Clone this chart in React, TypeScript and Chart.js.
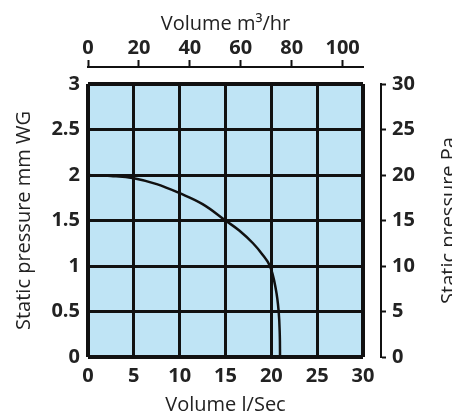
import React, { useEffect, useRef } from "react";
import { Chart, registerables } from "chart.js";

Chart.register(...registerables);

// ---- data ----
const flowLps = [0, 2.5, 5, 7.5, 10, 12.5, 15, 16.5, 18, 19, 19.85, 20.5, 20.8, 20.92, 20.95];
const pressureMmWG = [2, 1.99, 1.965, 1.9, 1.8, 1.68, 1.5, 1.39, 1.25, 1.13, 1.0, 0.74, 0.5, 0.25, 0];

const flowLpsMax = 30;
const flowLpsStep = 5;
const flowM3hMax = 108; // 30 l/s = 108 m3/hr
const flowM3hTicks = [0, 20, 40, 60, 80, 100];
const pressureMmMax = 3;
const pressureMmStep = 0.5;
const pressurePaMax = 30;
const pressurePaStep = 5;

const bottomTitle = "Volume l/Sec";
const topTitle = "Volume m³/hr";
const leftTitle = "Static pressure mm WG";
const rightTitle = "Static pressure Pa";

const FONT = '"Open Sans", "Noto Sans", sans-serif';
const tickFont = { family: FONT, size: 20, weight: "bold" as const };
const titleFont = { family: FONT, size: 20, weight: "normal" as const };
const plain = (v: any) => String(v);

export default function App() {
  const ref = useRef<HTMLCanvasElement | null>(null);

  useEffect(() => {
    if (!ref.current) return;

    const bgPlugin = {
      id: "plotBg",
      beforeDraw(chart: any) {
        const { ctx, chartArea } = chart;
        ctx.save();
        ctx.fillStyle = "#bfe4f5";
        ctx.fillRect(chartArea.left, chartArea.top, chartArea.right - chartArea.left, chartArea.bottom - chartArea.top);
        ctx.restore();
      },
      afterDraw(chart: any) {
        const { ctx, chartArea } = chart;
        ctx.save();
        ctx.translate(449, (chartArea.top + chartArea.bottom) / 2);
        ctx.rotate(-Math.PI / 2);
        ctx.font = `20px ${FONT}`;
        ctx.fillStyle = "#222";
        ctx.textAlign = "center";
        ctx.textBaseline = "middle";
        ctx.fillText(rightTitle, 0, 0);
        ctx.restore();
      },
    };

    const edgeWidth = (max: number) => (c: any) =>
      c.tick && (c.tick.value === 0 || c.tick.value === max) ? 4 : 3;

    const chart = new Chart(ref.current, {
      type: "scatter",
      data: {
        datasets: [
          {
            data: flowLps.map((x, i) => ({ x, y: pressureMmWG[i] })),
            showLine: true,
            borderColor: "#111",
            borderWidth: 2.5,
            pointRadius: 0,
            tension: 0.4,
            xAxisID: "x",
            yAxisID: "y",
          },
        ],
      },
      options: {
        responsive: false,
        animation: false,
        layout: { padding: 0 },
        plugins: { legend: { display: false }, tooltip: { enabled: false } },
        scales: {
          x: {
            type: "linear",
            position: "bottom",
            min: 0,
            max: flowLpsMax,
            ticks: { stepSize: flowLpsStep, font: tickFont, color: "#222", padding: 7, callback: plain },
            grid: { color: "#111", lineWidth: edgeWidth(flowLpsMax), drawTicks: false },
            border: { display: false },
            title: { display: true, text: bottomTitle, font: titleFont, color: "#222", padding: { top: 0, bottom: -3 } },
            afterFit: (s: any) => { s.height = 57; },
          },
          y: {
            type: "linear",
            position: "left",
            min: 0,
            max: pressureMmMax,
            ticks: { stepSize: pressureMmStep, font: tickFont, color: "#222", padding: 8, callback: plain },
            grid: { color: "#111", lineWidth: edgeWidth(pressureMmMax), drawTicks: false },
            border: { display: false },
            title: { display: true, text: leftTitle, font: titleFont, color: "#222", padding: { top: 12, bottom: 0 } },
            afterFit: (s: any) => { s.width = 88; },
          },
          xGap: {
            type: "linear",
            position: "top",
            weight: 0,
            min: 0,
            max: 1,
            ticks: { display: false },
            grid: { display: false },
            border: { display: false },
            afterFit: (s: any) => { s.height = 17; },
          },
          x2: {
            type: "linear",
            position: "top",
            weight: 1,
            min: 0,
            max: flowM3hMax,
            afterBuildTicks: (s: any) => { s.ticks = flowM3hTicks.map((v) => ({ value: v })); },
            ticks: { font: tickFont, color: "#222", padding: 0, callback: plain },
            grid: { drawOnChartArea: false, drawTicks: true, tickLength: 7, tickColor: "#111", tickWidth: 2 },
            border: { display: true, color: "#111", width: 2 },
            title: { display: true, text: topTitle, font: titleFont, color: "#222", padding: { top: 12, bottom: 0 } },
            afterFit: (s: any) => { s.height = 67; },
          },
          yGap: {
            type: "linear",
            position: "right",
            weight: 0,
            min: 0,
            max: 1,
            ticks: { display: false },
            grid: { display: false },
            border: { display: false },
            afterFit: (s: any) => { s.width = 18; },
          },
          y2: {
            type: "linear",
            position: "right",
            weight: 1,
            min: 0,
            max: pressurePaMax,
            ticks: { stepSize: pressurePaStep, font: tickFont, color: "#222", padding: 6, callback: plain },
            grid: { drawOnChartArea: false, drawTicks: true, tickLength: 5, tickColor: "#111", tickWidth: 2 },
            border: { display: true, color: "#111", width: 2 },
            afterFit: (s: any) => { s.width = 71; },
          },
        },
      } as any,
      plugins: [bgPlugin],
    });

    return () => chart.destroy();
  }, []);

  return (
    <div style={{ position: "absolute", left: 0, top: 0, width: 452, height: 414, background: "#fff" }}>
      <canvas ref={ref} width={452} height={414} />
    </div>
  );
}
